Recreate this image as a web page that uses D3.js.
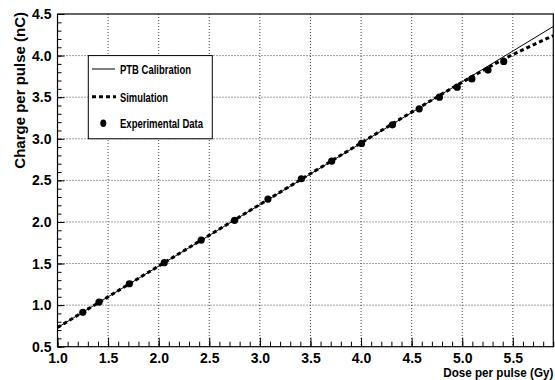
<!DOCTYPE html>
<html>
<head>
<meta charset="utf-8">
<script src="https://cdn.jsdelivr.net/npm/d3@7"></script>
<style>
  html, body { margin: 0; padding: 0; background: #fff; }
  svg { display: block; font-family: "Liberation Sans", Arial, Helvetica, sans-serif; }
</style>
</head>
<body>
<svg id="chart" width="555" height="380"></svg>
<script>
// ---- data ----
const xTicks = [1.0, 1.5, 2.0, 2.5, 3.0, 3.5, 4.0, 4.5, 5.0, 5.5];
const yTicks = [0.5, 1.0, 1.5, 2.0, 2.5, 3.0, 3.5, 4.0, 4.5];
const ptbDose = [1.0, 5.9];
const ptbCharge = [0.73, 4.35];
const simDose = [1.0, 2.0, 3.0, 4.0, 4.5, 5.0, 5.4, 5.9];
const simCharge = [0.73, 1.47, 2.21, 2.95, 3.32, 3.68, 3.95, 4.24];
const expDose = [1.25, 1.41, 1.71, 2.055, 2.42, 2.75, 3.08, 3.41, 3.71, 4.005, 4.31, 4.575, 4.775, 4.95, 5.095, 5.255, 5.41];
const expCharge = [0.913, 1.037, 1.257, 1.51, 1.782, 2.019, 2.275, 2.519, 2.732, 2.944, 3.168, 3.36, 3.50, 3.62, 3.72, 3.826, 3.93];
const legendLabels = ["PTB Calibration", "Simulation", "Experimental Data"];
const xTitle = "Dose per pulse (Gy)";
const yTitle = "Charge per pulse (nC)";

// ---- layout ----
const L = 57.5, R = 553.3, T = 14, B = 346.7;
const svg = d3.select("#chart");
const x = d3.scaleLinear().domain([1.0, 5.9]).range([L, R]);
const y = d3.scaleLinear().domain([0.5, 4.5]).range([B, T]);

// grid
const grid = svg.append("g");
grid.selectAll("line.gx").data(xTicks.filter(d => d > 1.0)).join("line")
  .attr("x1", d => x(d)).attr("x2", d => x(d)).attr("y1", T).attr("y2", B)
  .attr("stroke", "#444").attr("stroke-width", 1).attr("stroke-dasharray", "1,2");
grid.selectAll("line.gy").data(yTicks.filter(d => d > 0.5 && d < 4.5)).join("line")
  .attr("y1", d => y(d)).attr("y2", d => y(d)).attr("x1", L).attr("x2", R)
  .attr("stroke", "#444").attr("stroke-width", 1).attr("stroke-dasharray", "1,2");

// axes
const xMinor = d3.range(10, 60).map(v => v / 10);
const yMinor = d3.range(5, 46).map(v => v / 10);
const xAxis = d3.axisBottom(x).tickValues(xMinor).tickSize(-5).tickFormat("");
const xAxisMaj = d3.axisBottom(x).tickValues(xTicks).tickSize(-9).tickPadding(6.5).tickFormat(d3.format(".1f"));
const yAxis = d3.axisLeft(y).tickValues(yMinor).tickSize(-4).tickFormat("");
const yAxisMaj = d3.axisLeft(y).tickValues(yTicks).tickSize(-7).tickPadding(6).tickFormat(d3.format(".1f"));

[xAxis, xAxisMaj].forEach(a => {
  const g = svg.append("g").attr("transform", `translate(0,${B})`).call(a);
  g.select(".domain").remove();
  g.selectAll("line").attr("stroke", "#000");
  g.selectAll("text").attr("font-size", 14).attr("font-weight", "bold").attr("fill", "#000")
    .attr("font-family", "'Liberation Sans', Arial, sans-serif");
});
[yAxis, yAxisMaj].forEach(a => {
  const g = svg.append("g").attr("transform", `translate(${L},0)`).call(a);
  g.select(".domain").remove();
  g.selectAll("line").attr("stroke", "#000");
  g.selectAll("text").attr("font-size", 14).attr("font-weight", "bold").attr("fill", "#000")
    .attr("font-family", "'Liberation Sans', Arial, sans-serif");
});

// frame
svg.append("rect").attr("x", L).attr("y", T).attr("width", R - L).attr("height", B - T)
  .attr("fill", "none").attr("stroke", "#000").attr("stroke-width", 1.2);

// clip
svg.append("clipPath").attr("id", "clip").append("rect")
  .attr("x", L).attr("y", T).attr("width", R - L).attr("height", B - T);
const plot = svg.append("g").attr("clip-path", "url(#clip)");

const line = d3.line().x(d => x(d[0])).y(d => y(d[1]));
const lineC = d3.line().x(d => x(d[0])).y(d => y(d[1])).curve(d3.curveMonotoneX);

plot.append("path").datum(simDose.map((d, i) => [d, simCharge[i]]))
  .attr("d", lineC).attr("fill", "none").attr("stroke", "#000")
  .attr("stroke-width", 3).attr("stroke-dasharray", "4,3");
plot.append("path").datum(ptbDose.map((d, i) => [d, ptbCharge[i]]))
  .attr("d", line).attr("fill", "none").attr("stroke", "#000").attr("stroke-width", 1);
plot.selectAll("circle").data(expDose.map((d, i) => [d, expCharge[i]])).join("circle")
  .attr("cx", d => x(d[0])).attr("cy", d => y(d[1])).attr("r", 3.6).attr("fill", "#000");

// titles
svg.append("text").attr("x", R).attr("y", 376.5).attr("text-anchor", "end")
  .attr("font-size", 13.5).attr("font-weight", "bold")
  .attr("textLength", 110).attr("lengthAdjust", "spacingAndGlyphs").text(xTitle);
svg.append("text").attr("transform", "translate(25,12) rotate(-90)").attr("text-anchor", "end")
  .attr("font-size", 15).attr("font-weight", "bold").text(yTitle);

// legend
const lg = svg.append("g");
lg.append("rect").attr("x", 88.3).attr("y", y(4.0)).attr("width", 124).attr("height", y(3.0) - y(4.0))
  .attr("fill", "#fff").attr("stroke", "#000").attr("stroke-width", 1);
const rowY = [69, 96.7, 123.3];
const textW = [71, 48, 83];
lg.append("line").attr("x1", 92).attr("x2", 115).attr("y1", rowY[0]).attr("y2", rowY[0])
  .attr("stroke", "#000").attr("stroke-width", 1);
lg.append("line").attr("x1", 92).attr("x2", 116).attr("y1", rowY[1]).attr("y2", rowY[1])
  .attr("stroke", "#000").attr("stroke-width", 3).attr("stroke-dasharray", "4,3");
lg.append("ellipse").attr("cx", 103.3).attr("cy", rowY[2]).attr("rx", 3).attr("ry", 3.8).attr("fill", "#000");
lg.selectAll("text").data(legendLabels).join("text")
  .attr("x", 120).attr("y", (d, i) => rowY[i] + 4.8)
  .attr("font-size", 13.5).attr("font-weight", "bold")
  .attr("textLength", (d, i) => textW[i]).attr("lengthAdjust", "spacingAndGlyphs")
  .text(d => d);
</script>
</body>
</html>
